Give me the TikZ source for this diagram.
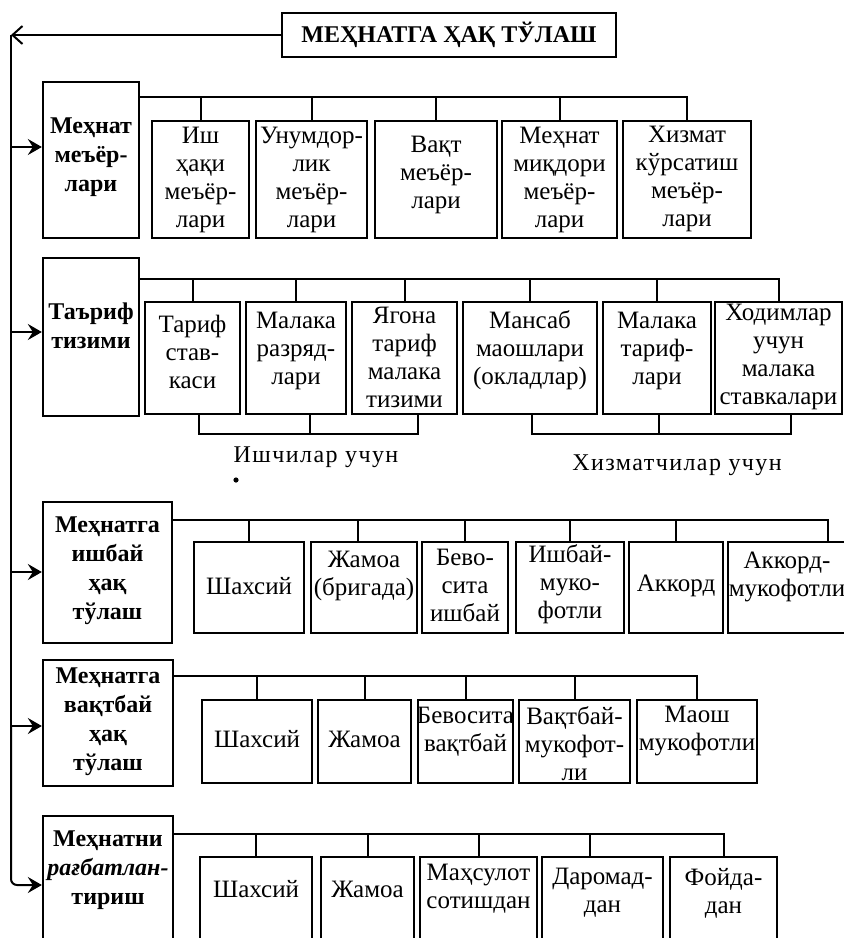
\documentclass[tikz,border=0pt]{standalone}
\usepackage{fontspec}
\setmainfont{Liberation Serif}
\usetikzlibrary{arrows.meta}
\tikzset{
  box/.style={draw, line width=1.15pt, inner sep=0pt},
  txt/.style={align=center, inner sep=0pt, font=\fontsize{12.5}{14}\selectfont},
  btxt/.style={align=center, inner sep=0pt, font=\fontsize{12}{14.5}\selectfont\bfseries},
  wire/.style={line width=1pt},
  feed/.style={line width=1pt, -{Stealth[length=7pt,width=8pt,inset=2.5pt]}},
  lbl/.style={inner sep=0pt, font=\fontsize{12}{14}\selectfont\addfontfeature{LetterSpace=6}},
}
\newcommand\cbox[7]{%
  \node[box, minimum width={(#4-#2)*0.5pt}, minimum height={(#5-#3)*0.5pt}] (#1) at ({(#2+#4)/2},{(#3+#5)/2}) {};
  \node[txt] (#1t) at ({(#2+#4)/2},#6) {#7};}
\newcommand\lbox[7]{%
  \node[box, minimum width={(#4-#2)*0.5pt}, minimum height={(#5-#3)*0.5pt}] (#1) at ({(#2+#4)/2},{(#3+#5)/2}) {};
  \node[btxt] (#1t) at ({(#2+#4)/2},#6) {#7};}
\begin{document}
\begin{tikzpicture}[x=0.5pt,y=-0.5pt]
\path[use as bounding box] (0,0) rectangle (844,938);
% title
\node[box, minimum width=167pt, minimum height=22pt, font=\fontsize{12}{14}\selectfont\bfseries] (title) at (449,35) {МЕҲНАТГА ҲАҚ ТЎЛАШ};
% trunk
\coordinate (vt) at (11,35);
\coordinate (vb) at (11,885);
\coordinate (t1) at (11,147);
\coordinate (t2) at (11,332);
\coordinate (t3) at (11,572);
\coordinate (t4) at (11,726);
% left boxes
\lbox{L1}{43}{82}{139}{238}{157}{Меҳнат\\меъёр-\\лари}
\lbox{L2}{43}{258}{139}{416}{326}{Таъриф\\тизими}
\lbox{L3}{43}{502}{172}{643}{571}{Меҳнатга\\ишбай\\ҳақ\\тўлаш}
\lbox{L4}{43}{660}{173}{786}{722}{Меҳнатга\\вақтбай\\ҳақ\\тўлаш}
\lbox{L5}{43}{816}{173}{980}{870}{Меҳнатни\\\textit{рағбатлан-}\\тириш}
% row 1
\cbox{c11}{152}{121}{249}{238}{180}{Иш\\ҳақи\\меъёр-\\лари}
\cbox{c12}{256}{121}{367}{238}{180}{Унумдор-\\лик\\меъёр-\\лари}
\cbox{c13}{375}{121}{497}{238}{175}{Вақт\\меъёр-\\лари}
\cbox{c14}{502}{121}{617}{238}{180}{Меҳнат\\миқдори\\меъёр-\\лари}
\cbox{c15}{623}{121}{751}{238}{179}{Хизмат\\кўрсатиш\\меъёр-\\лари}
% row 2
\cbox{c21}{145}{302}{240}{414}{352}{Тариф\\став-\\каси}
\cbox{c22}{246}{302}{346}{414}{351}{Малака\\разряд-\\лари}
\cbox{c23}{352}{302}{457}{414}{357}{Ягона\\тариф\\малака\\тизими}
\cbox{c24}{463}{302}{597}{414}{350}{Мансаб\\маошлари\\(окладлар)}
\cbox{c25}{603}{302}{711}{414}{351}{Малака\\тариф-\\лари}
\cbox{c26}{715}{302}{842}{414}{357}{Ходимлар\\учун\\малака\\ставкалари}
% row 3
\cbox{c31}{194}{542}{304}{633}{586}{Шахсий}
\cbox{c32}{311}{542}{417}{633}{576}{Жамоа\\(бригада)}
\cbox{c33}{422}{542}{508}{633}{585}{Бево-\\сита\\ишбай}
\cbox{c34}{516}{542}{624}{633}{584}{Ишбай-\\муко-\\фотли}
\cbox{c35}{629}{542}{723}{633}{586}{Аккорд}
\cbox{c36}{728}{542}{846}{633}{577}{Аккорд-\\мукофотли}
% row 4
\cbox{c41}{202}{700}{312}{783}{739}{Шахсий}
\cbox{c42}{318}{700}{411}{783}{739}{Жамоа}
\cbox{c43}{418}{700}{513}{783}{732}{Бевосита\\вақтбай}
\cbox{c44}{519}{700}{630}{783}{744}{Вақтбай-\\мукофот-\\ли}
\cbox{c45}{637}{700}{757}{783}{731}{Маош\\мукофотли}
% row 5
\cbox{c51}{200}{857}{312}{980}{889}{Шахсий}
\cbox{c52}{321}{857}{414}{980}{889}{Жамоа}
\cbox{c53}{420}{857}{537}{980}{889}{Маҳсулот\\сотишдан}
\cbox{c54}{542}{857}{663}{980}{893}{Даромад-\\дан}
\cbox{c55}{670}{857}{777}{980}{893}{Фойда-\\дан}
% trunk and arrows
\draw[wire, -{Straight Barb[length=5pt,width=9pt]}] (title.west) -- (vt);
\draw[wire] (vt) -- (t4);
\draw[feed, rounded corners=3pt] (t4) -- (vb) -- (vb -| L5.west);
\draw[feed] (t1) -- (t1 -| L1.west);
\draw[feed] (t2) -- (t2 -| L2.west);
\draw[feed] (t3) -- (t3 -| L3.west);
\draw[feed] (t4) -- (t4 -| L4.west);
% buses
\coordinate (b1) at (0,97);
\coordinate (b2) at (0,279);
\coordinate (b3) at (0,520);
\coordinate (b4) at (0,676);
\coordinate (b5) at (0,834);
\draw[wire] (b1 -| L1.east) -- (b1 -| c15.north) -- (c15.north);
\foreach \n in {c11,c12,c13,c14} \draw[wire] (b1 -| \n.north) -- (\n.north);
\draw[wire] (b2 -| L2.east) -- (b2 -| c26.north) -- (c26.north);
\foreach \n in {c21,c22,c23,c24,c25} \draw[wire] (b2 -| \n.north) -- (\n.north);
\coordinate (d32) at ([xshift=-3pt]c32.north);
\coordinate (d36) at ([xshift=20.5pt]c36.north);
\draw[wire] (b3 -| L3.east) -- (b3 -| d36) -- (d36);
\foreach \n in {c31,d32,c33,c34,c35} \draw[wire] (b3 -| \n) -- (\n);
\draw[wire] (b4 -| L4.east) -- (b4 -| c45.north) -- (c45.north);
\foreach \n in {c41,c42,c43,c44} \draw[wire] (b4 -| \n.north) -- (\n.north);
\coordinate (d54) at ([xshift=-6.5pt]c54.north);
\draw[wire] (b5 -| L5.east) -- (b5 -| c55.north) -- (c55.north);
\foreach \n in {c51,c52,c53,d54} \draw[wire] (b5 -| \n) -- (\n);
% row 2 group brackets
\coordinate (g1) at (0,434);
\coordinate (e21) at ([xshift=3pt]c21.south);
\coordinate (e22) at ([xshift=7pt]c22.south);
\coordinate (e23) at ([xshift=6.5pt]c23.south);
\coordinate (e24) at ([xshift=1pt]c24.south);
\coordinate (e25) at ([xshift=1pt]c25.south);
\coordinate (e26) at ([xshift=6pt]c26.south);
\draw[wire] (e21) -- (e21 |- g1) -- (e23 |- g1) -- (e23);
\draw[wire] (e22) -- (e22 |- g1);
\draw[wire] (e24) -- (e24 |- g1) -- (e26 |- g1) -- (e26);
\draw[wire] (e25) -- (e25 |- g1);
\node[lbl] (lw) at (316,457) {Ишчилар учун};
\node[lbl] (ls) at (677,465) {Хизматчилар учун};
\fill (236,480) circle[radius=1.3pt];
\end{tikzpicture}
\end{document}
